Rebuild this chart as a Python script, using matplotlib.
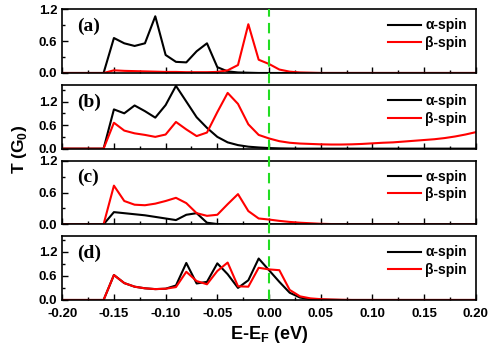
import matplotlib
matplotlib.use("Agg")
import matplotlib.pyplot as plt
from matplotlib.lines import Line2D
from matplotlib.ticker import MultipleLocator
import numpy as np

# energy grid E-EF (eV), 0.01 steps
energy = np.round(np.arange(-0.20, 0.2001, 0.01), 2)

# transmission of each system, alpha and beta spin
a_alpha = [0, 0, 0, 0, 0,
           0.66, 0.56, 0.51, 0.56, 1.07, 0.34, 0.21, 0.20, 0.41, 0.56,
           0.11, 0.03, 0.01, 0.005, 0.0] + [0] * 21
a_beta = [0, 0, 0, 0, 0,
          0.05, 0.04, 0.035, 0.03, 0.025, 0.02, 0.02, 0.015, 0.015, 0.015,
          0.02, 0.05, 0.15, 0.92, 0.25, 0.17, 0.065, 0.025, 0.01, 0.005] + [0] * 16

b_alpha = [0, 0, 0, 0, 0,
           1.0, 0.90, 1.10, 0.955, 0.79, 1.11, 1.6, 1.2, 0.8, 0.53,
           0.3, 0.16, 0.09, 0.05, 0.03, 0.015, 0.007, 0.003] + [0] * 18
b_beta = [0, 0, 0, 0, 0,
          0.66, 0.46, 0.39, 0.35, 0.30, 0.36, 0.68, 0.49, 0.32, 0.41,
          0.93, 1.42, 1.14, 0.62, 0.35, 0.26, 0.19, 0.15, 0.13, 0.12,
          0.11, 0.105, 0.105, 0.11, 0.12, 0.135, 0.15, 0.16, 0.18, 0.20,
          0.22, 0.24, 0.27, 0.31, 0.36, 0.42]

c_alpha = [0, 0, 0, 0, 0,
           0.23, 0.21, 0.19, 0.17, 0.14, 0.11, 0.08, 0.18, 0.21, 0.03,
           0.005] + [0] * 25
c_beta = [0, 0, 0, 0, 0,
          0.73, 0.44, 0.37, 0.36, 0.39, 0.44, 0.50, 0.40, 0.21, 0.16,
          0.18, 0.38, 0.57, 0.25, 0.11, 0.09, 0.065, 0.045, 0.03, 0.02,
          0.01, 0.005] + [0] * 14

d_alpha = [0, 0, 0, 0, 0,
           0.62, 0.42, 0.33, 0.29, 0.27, 0.28, 0.36, 0.92, 0.41, 0.45,
           0.91, 0.64, 0.30, 0.49, 1.03, 0.74, 0.45, 0.18, 0.06, 0.02,
           0.01, 0.005] + [0] * 14
d_beta = [0, 0, 0, 0, 0,
          0.62, 0.42, 0.33, 0.29, 0.27, 0.28, 0.32, 0.70, 0.47, 0.39,
          0.72, 0.93, 0.34, 0.33, 0.80, 0.76, 0.74, 0.25, 0.09, 0.04,
          0.02, 0.01, 0.005] + [0] * 13

panels = ["(a)", "(b)", "(c)", "(d)"]
alphas = [a_alpha, b_alpha, c_alpha, d_alpha]
betas = [a_beta, b_beta, c_beta, d_beta]
ytops = [1.2, 1.62, 1.2, 1.58]
xticks = [-0.20, -0.15, -0.10, -0.05, 0.00, 0.05, 0.10, 0.15, 0.20]

sans = "Liberation Sans"
serif = "Liberation Serif"

fig, axes = plt.subplots(4, 1, figsize=(4.9, 3.48), dpi=100, sharex=True)
fig.subplots_adjust(left=0.127, right=0.971, bottom=0.138, top=0.973, hspace=0.19)

for ax, lab, ya, yb, top in zip(axes, panels, alphas, betas, ytops):
    ax.plot(energy, ya, color="black", lw=1.5, label="α-spin")
    ax.plot(energy, yb, color="red", lw=1.5, label="β-spin")
    ax.set_xlim(-0.20, 0.20)
    ax.set_ylim(0, top)
    ax.set_yticks([0.0, 0.6, 1.2])
    ax.set_yticklabels(["0.0", "0.6", "1.2"])
    ax.yaxis.set_minor_locator(MultipleLocator(0.3))
    ax.xaxis.set_minor_locator(MultipleLocator(0.025))
    ax.set_xticks(xticks)
    ax.tick_params(which="both", direction="in", top=False, right=False)
    ax.tick_params(which="major", length=4, width=1.0)
    ax.tick_params(which="minor", length=2, width=1.0)
    ax.tick_params(axis="x", pad=6)
    for s in ax.spines.values():
        s.set_linewidth(1.2)
    for t in ax.get_yticklabels() + ax.get_xticklabels():
        t.set_fontfamily(sans)
        t.set_fontweight("bold")
        t.set_fontsize(9.5)
    ax.text(0.035, 0.87, lab, transform=ax.transAxes, ha="left", va="top",
            fontfamily=serif, fontweight="bold", fontsize=14)
    ax.legend(loc="upper right", frameon=False, handlelength=2.4,
              handletextpad=0.3, labelspacing=0.25, borderaxespad=0.25,
              prop={"family": sans, "weight": "bold", "size": 10})

axes[-1].set_xticklabels(["%.2f" % v for v in xticks])
for t in axes[-1].get_xticklabels():
    t.set_fontfamily(sans)
    t.set_fontweight("bold")
    t.set_fontsize(9.5)
axes[-1].set_xlabel("E-E$_\\mathregular{F}$ (eV)", fontfamily=sans,
                    fontweight="bold", fontsize=13, labelpad=3)
fig.text(0.02, 0.57, "T (G$_\\mathregular{0}$)", rotation=90, ha="left", va="center",
         fontfamily=sans, fontweight="bold", fontsize=12.5)

# green dashed Fermi level line across all panels
inv = fig.transFigure.inverted()
x0, y_top = inv.transform(axes[0].transData.transform((0.0, ytops[0])))
_, y_bot = inv.transform(axes[-1].transData.transform((0.0, 0.0)))
fig.add_artist(Line2D([x0, x0], [y_bot, y_top], color="#22dd22", lw=1.5,
                      ls=(0, (5, 3)), transform=fig.transFigure))

fig.savefig("out.png", dpi=100)
